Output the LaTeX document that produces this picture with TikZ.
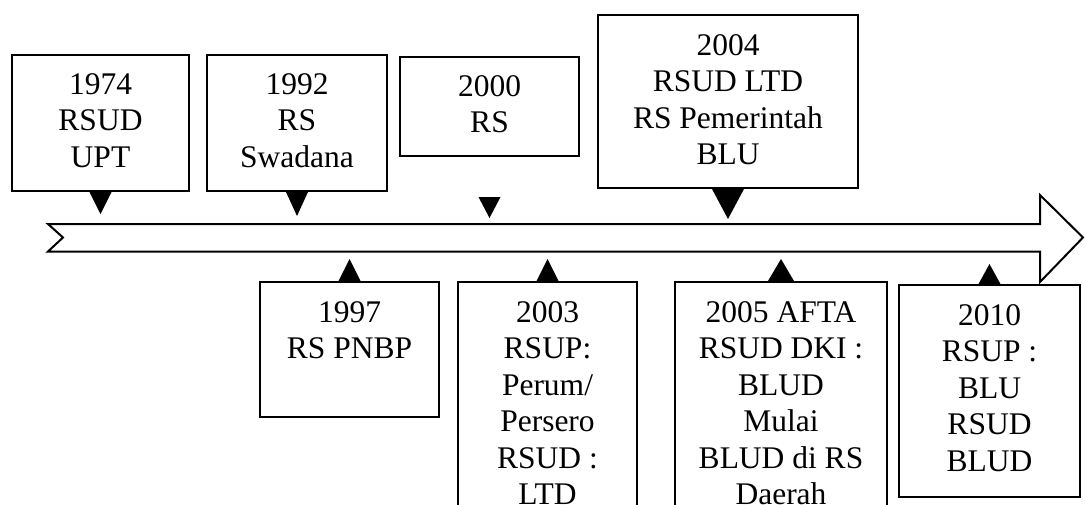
\documentclass[tikz,border=0pt]{standalone}
\usepackage{fontspec}
\setmainfont{Liberation Serif}
\begin{document}
\begin{tikzpicture}[x=1pt,y=-1pt,
  box/.style={draw, line width=2pt, inner sep=0pt},
  txt/.style={anchor=north, inner sep=0pt, align=center, font=\fontsize{31.5}{36.5}\selectfont},
  pointer/.style={fill=black},
  timeline/.style={draw, line width=2pt, line join=miter}]
\useasboundingbox (0,0) rectangle (1085,504);
\clip (0,0) rectangle (1085,504);
\fill[white] (0,0) rectangle (1085,504);

% timeline arrow
\draw[timeline] (48,224) -- (1040,224) -- (1040,195) -- (1083,237.5) -- (1040,282)
  -- (1040,251.5) -- (48,251.5) -- (63,237.5) -- cycle;

% upper boxes
\node[box, minimum width=177pt, minimum height=136pt] (b1974) at (100.5,123) {};
\node[txt] (t1974) at ([yshift=-19pt]b1974.north) {1974\\RSUD\\UPT};
\fill[pointer] ([xshift=-11pt]b1974.south) -- ([xshift=11pt]b1974.south) -- ([yshift=-22pt]b1974.south) -- cycle;

\node[box, minimum width=180pt, minimum height=136pt] (b1992) at (297,123) {};
\node[txt] (t1992) at ([yshift=-19pt]b1992.north) {1992\\RS\\Swadana};
\fill[pointer] ([xshift=-11pt]b1992.south) -- ([xshift=11pt]b1992.south) -- ([yshift=-24pt]b1992.south) -- cycle;

\node[box, minimum width=179pt, minimum height=99pt] (b2000) at (489.5,106.5) {};
\node[txt] (t2000) at ([yshift=-19pt]b2000.north) {2000\\RS};
\fill[pointer] ([xshift=-11pt,yshift=-40pt]b2000.south) -- ([xshift=11pt,yshift=-40pt]b2000.south) -- ([yshift=-61pt]b2000.south) -- cycle;

\node[box, minimum width=260pt, minimum height=173pt] (b2004) at (728,101.5) {};
\node[txt] (t2004) at ([yshift=-20pt]b2004.north) {2004\\RSUD LTD\\RS Pemerintah\\BLU};
\fill[pointer] ([xshift=-16pt]b2004.south) -- ([xshift=16pt]b2004.south) -- ([yshift=-30pt]b2004.south) -- cycle;

% lower boxes
\node[box, minimum width=179pt, minimum height=135pt] (b1997) at (349.5,349.5) {};
\node[txt] (t1997) at ([yshift=-20pt]b1997.north) {1997\\RS PNBP};
\fill[pointer] ([xshift=-11pt]b1997.north) -- ([xshift=11pt]b1997.north) -- ([yshift=22pt]b1997.north) -- cycle;

\node[box, minimum width=179pt, minimum height=278pt] (b2003) at (547.5,421) {};
\node[txt] (t2003) at ([yshift=-20pt]b2003.north) {2003\\RSUP:\\Perum/\\Persero\\RSUD :\\LTD};
\fill[pointer] ([xshift=-11pt]b2003.north) -- ([xshift=11pt]b2003.north) -- ([yshift=22pt]b2003.north) -- cycle;

\node[box, minimum width=212pt, minimum height=278pt] (b2005) at (781,421) {};
\node[txt] (t2005) at ([yshift=-20pt]b2005.north) {2005 AFTA\\RSUD DKI :\\BLUD\\Mulai\\BLUD di RS\\Daerah};
\fill[pointer] ([xshift=-13pt]b2005.north) -- ([xshift=13pt]b2005.north) -- ([yshift=22pt]b2005.north) -- cycle;

\node[box, minimum width=181pt, minimum height=212pt] (b2010) at (989.5,391) {};
\node[txt] (t2010) at ([yshift=-20pt]b2010.north) {2010\\RSUP :\\BLU\\RSUD\\BLUD};
\fill[pointer] ([xshift=-11pt]b2010.north) -- ([xshift=11pt]b2010.north) -- ([yshift=20pt]b2010.north) -- cycle;
\end{tikzpicture}
\end{document}
